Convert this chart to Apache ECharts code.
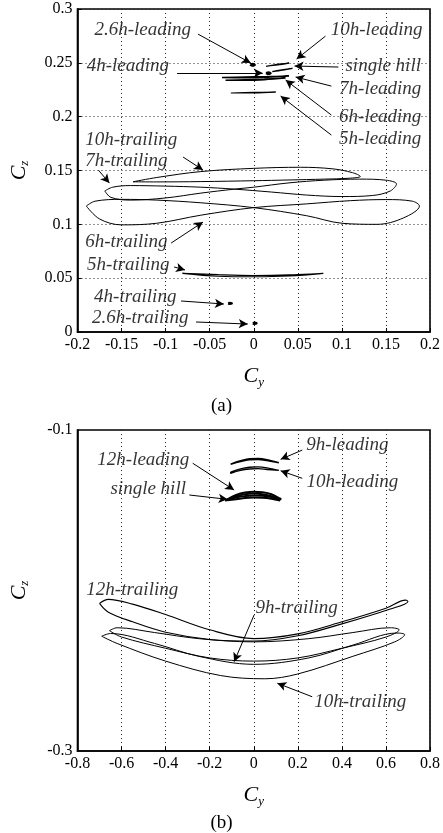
<!DOCTYPE html>
<html>
<head>
<meta charset="utf-8">
<script src="https://cdn.jsdelivr.net/npm/echarts@6/dist/echarts.min.js"></script>
<style>
  html, body { margin: 0; padding: 0; background: #fff; }
  #chart { width: 443px; height: 833px; }
</style>
</head>
<body>
<div id="chart"></div>
<script>
// ---------- panel (a): Cy–Cz trajectories, leading / trailing hills ----------
const lead26A = [[-0.004,0.2484],[-0.001,0.2489],[0.001,0.2481],[-0.002,0.2476],[-0.004,0.2484]];
const lead4A  = [[0.014,0.2404],[0.017,0.2410],[0.019,0.2403],[0.016,0.2398],[0.014,0.2404]];
const lead10A = [[0.014,0.2468],[0.022,0.2480],[0.031,0.2490],[0.040,0.2497],[0.032,0.2486],[0.022,0.2475],[0.014,0.2468]];
const singleA = [[0.021,0.2418],[0.030,0.2432],[0.038,0.2442],[0.044,0.2448],[0.036,0.2436],[0.028,0.2425],[0.021,0.2418]];
const lead7A  = [[-0.036,0.2364],[-0.010,0.2368],[0.015,0.2372],[0.040,0.2377],[0.015,0.2366],[-0.010,0.2362],[-0.036,0.2364]];
const lead6A  = [[-0.032,0.2338],[-0.010,0.2344],[0.012,0.2350],[0.036,0.2358],[0.012,0.2343],[-0.010,0.2338],[-0.032,0.2338]];
const lead5A  = [[-0.026,0.2220],[0.000,0.2225],[0.025,0.2228],[0.000,0.2221],[-0.026,0.2220]];

const trail10A = [[-0.137,0.1395],[-0.110,0.1435],[-0.060,0.1490],[0.000,0.1520],[0.053,0.1530],[0.090,0.1515],[0.112,0.1480],
                  [0.121,0.1445],[0.108,0.1428],[0.080,0.1420],[0.040,0.1412],[0.000,0.1405],[-0.060,0.1397],[-0.110,0.1394],[-0.137,0.1395]];
const trail7A  = [[-0.169,0.1310],[-0.160,0.1345],[-0.140,0.1360],[-0.100,0.1355],[-0.060,0.1345],[-0.022,0.1327],[0.020,0.1300],
                  [0.060,0.1272],[0.100,0.1258],[0.135,0.1268],[0.155,0.1310],[0.162,0.1375],[0.150,0.1410],[0.120,0.1420],
                  [0.080,0.1410],[0.040,0.1385],[0.000,0.1345],[-0.022,0.1327],[-0.060,0.1290],[-0.100,0.1245],[-0.140,0.1225],
                  [-0.162,0.1250],[-0.169,0.1310]];
const trail6A  = [[-0.190,0.1170],[-0.180,0.1215],[-0.150,0.1232],[-0.110,0.1225],[-0.060,0.1200],[0.000,0.1155],[0.060,0.1080],
                  [0.100,0.1010],[0.140,0.1000],[0.170,0.1060],[0.188,0.1170],[0.180,0.1215],[0.150,0.1230],[0.110,0.1220],
                  [0.060,0.1190],[0.000,0.1155],[-0.060,0.1085],[-0.110,0.1010],[-0.150,0.0995],[-0.175,0.1050],[-0.190,0.1170]];
const trail5A  = [[-0.081,0.0545],[-0.040,0.0532],[0.000,0.0525],[0.040,0.0530],[0.079,0.0545],[0.040,0.0520],[0.000,0.0513],
                  [-0.040,0.0518],[-0.081,0.0545]];
const trail4A  = [[-0.029,0.0266],[-0.027,0.0270],[-0.025,0.0266],[-0.027,0.0262],[-0.029,0.0266]];
const trail26A = [[-0.001,0.0081],[0.001,0.0085],[0.003,0.0081],[0.001,0.0077],[-0.001,0.0081]];

// label text, label centre, arrow tail, arrow head (data units of panel a)
const notesA = [
  ['2.6h-leading',  [-0.126, 0.2804], [-0.0633, 0.2767], [-0.0034, 0.2498]],
  ['10h-leading',   [ 0.1395, 0.2804], [ 0.0814, 0.2748], [ 0.0486, 0.2535]],
  ['single hill',   [ 0.1469, 0.2470], [ 0.0960, 0.2461], [ 0.0463, 0.2470]],
  ['4h-leading',    [-0.1429, 0.2470], [-0.0870, 0.2405], [ 0.0102, 0.2405]],
  ['7h-leading',    [ 0.1435, 0.2256], [ 0.0881, 0.2284], [ 0.0475, 0.2368]],
  ['6h-leading',    [ 0.1435, 0.1996], [ 0.0881, 0.2015], [ 0.0362, 0.2340]],
  ['5h-leading',    [ 0.1435, 0.1792], [ 0.0881, 0.1829], [ 0.0305, 0.2191]],
  ['10h-trailing',  [-0.1390, 0.1783], [-0.0802, 0.1625], [-0.0576, 0.1504]],
  ['7h-trailing',   [-0.1446, 0.1588], [-0.1763, 0.1504], [-0.1638, 0.1383]],
  ['6h-trailing',   [-0.1446, 0.0836], [-0.0938, 0.0826], [-0.0576, 0.1021]],
  ['5h-trailing',   [-0.1424, 0.0622], [-0.0904, 0.0604], [-0.0780, 0.0576]],
  ['4h-trailing',   [-0.1345, 0.0325], [-0.0825, 0.0288], [-0.0339, 0.0260]],
  ['2.6h-trailing', [-0.1288, 0.0130], [-0.0655, 0.0093], [-0.0068, 0.0074]]
];

// ---------- panel (b): higher hills ----------
const lead9B   = [[-0.105,-0.1213],[-0.060,-0.1192],[-0.020,-0.1180],[0.020,-0.1178],[0.060,-0.1185],[0.114,-0.1204],
                  [0.060,-0.1190],[0.020,-0.1183],[-0.020,-0.1185],[-0.060,-0.1196],[-0.105,-0.1213]];
const lead10B  = [[-0.105,-0.1262],[-0.060,-0.1242],[-0.020,-0.1232],[0.020,-0.1230],[0.060,-0.1236],[0.114,-0.1252],
                  [0.060,-0.1246],[0.020,-0.1241],[-0.020,-0.1243],[-0.060,-0.1252],[-0.105,-0.1270],[-0.105,-0.1262]];
const lead12B  = [[-0.120,-0.1432],[-0.080,-0.1405],[-0.040,-0.1390],[0.000,-0.1385],[0.040,-0.1388],[0.080,-0.1400],[0.125,-0.1432],
                  [0.080,-0.1418],[0.040,-0.1410],[0.000,-0.1408],[-0.040,-0.1412],[-0.080,-0.1420],[-0.120,-0.1432]];
const singleB  = [[-0.130,-0.1440],[-0.080,-0.1413],[-0.040,-0.1400],[0.000,-0.1396],[0.040,-0.1400],[0.080,-0.1412],[0.120,-0.1440],
                  [0.080,-0.1428],[0.040,-0.1422],[0.000,-0.1421],[-0.040,-0.1424],[-0.080,-0.1432],[-0.130,-0.1440]];

const trail12B = [[-0.700,-0.2080],[-0.660,-0.2055],[-0.550,-0.2085],[-0.400,-0.2150],[-0.200,-0.2245],[0.000,-0.2300],[0.200,-0.2270],
                  [0.400,-0.2195],[0.600,-0.2110],[0.690,-0.2060],[0.700,-0.2068],[0.620,-0.2115],[0.400,-0.2208],[0.200,-0.2282],
                  [0.000,-0.2315],[-0.200,-0.2305],[-0.400,-0.2260],[-0.550,-0.2195],[-0.660,-0.2135],[-0.700,-0.2080]];
const trail9B  = [[-0.655,-0.2250],[-0.620,-0.2232],[-0.450,-0.2262],[-0.250,-0.2300],[0.000,-0.2320],[0.250,-0.2300],[0.450,-0.2262],
                  [0.620,-0.2232],[0.660,-0.2245],[0.600,-0.2290],[0.400,-0.2360],[0.200,-0.2420],[0.000,-0.2440],[-0.200,-0.2420],
                  [-0.400,-0.2360],[-0.600,-0.2290],[-0.655,-0.2250]];
const trail10B = [[-0.690,-0.2285],[-0.650,-0.2268],[-0.450,-0.2330],[-0.250,-0.2410],[0.000,-0.2460],[0.250,-0.2420],[0.450,-0.2340],
                  [0.650,-0.2265],[0.685,-0.2275],[0.640,-0.2320],[0.450,-0.2410],[0.200,-0.2520],[0.050,-0.2550],[-0.150,-0.2530],
                  [-0.400,-0.2440],[-0.620,-0.2330],[-0.690,-0.2285]];

const notesB = [
  ['9h-leading',   [ 0.4249,-0.1093], [ 0.2201,-0.1125], [ 0.1220,-0.1183]],
  ['12h-leading',  [-0.5017,-0.1187], [-0.2771,-0.1207], [-0.0890,-0.1374]],
  ['10h-leading',  [ 0.4475,-0.1324], [ 0.2201,-0.1301], [ 0.1220,-0.1254]],
  ['single hill',  [-0.4791,-0.1368], [-0.2924,-0.1405], [-0.1189,-0.1432]],
  ['12h-trailing', [-0.5514,-0.1997], null, null],
  ['9h-trailing',  [ 0.1944,-0.2109], [ 0.0014,-0.2153], [-0.0890,-0.2444]],
  ['10h-trailing', [ 0.4836,-0.2695], [ 0.2653,-0.2662], [ 0.1071,-0.2578]]
];

// y tick labels shown on panel (b)
const yLabelsB = [-0.3, -0.1];

const SERIF = '"Liberation Serif", "Times New Roman", serif';
const INK = '#000';

function loop(data, idx, width) {
  return {
    type: 'line', data: data, xAxisIndex: idx, yAxisIndex: idx,
    showSymbol: false, smooth: 0.35, silent: true, animation: false,
    lineStyle: { color: INK, width: width || 1 }
  };
}

function notes(list, idx) {
  return [{
    type: 'scatter', xAxisIndex: idx, yAxisIndex: idx, symbolSize: 0, silent: true, animation: false,
    data: list.map(n => ({ name: n[0], value: n[1] })),
    label: {
      show: true, position: 'inside', formatter: '{b}',
      fontFamily: SERIF, fontStyle: 'italic', fontSize: 19, color: INK
    }
  }, {
    type: 'line', xAxisIndex: idx, yAxisIndex: idx, data: [], silent: true, animation: false,
    markLine: {
      silent: true, animation: false,
      symbol: ['none', 'arrow'], symbolSize: [7, 9],
      label: { show: false },
      lineStyle: { color: INK, width: 1, type: 'solid' },
      data: list.filter(n => n[2]).map(n => [{ coord: n[2] }, { coord: n[3] }])
    }
  }];
}

const axisText = { fontFamily: SERIF, fontSize: 16, color: INK };
const nameRich = {
  c: { fontFamily: SERIF, fontStyle: 'italic', fontSize: 22, color: INK },
  s: { fontFamily: SERIF, fontStyle: 'italic', fontSize: 13, color: INK, padding: [12, 0, 0, 0] }
};
const dotted = { show: true, lineStyle: { color: '#222', width: 1, type: [1, 3] } };

function xAx(idx, min, max, step) {
  return {
    type: 'value', gridIndex: idx, min: min, max: max, interval: step,
    axisLine: { show: true, onZero: false, lineStyle: { color: INK, width: 1.6 } },
    axisTick: { show: true, inside: true, length: 4, lineStyle: { color: INK } },
    axisLabel: Object.assign({ margin: 5 }, axisText),
    splitLine: dotted,
    name: '{c|C}{s|y}', nameLocation: 'middle', nameGap: 32,
    nameTextStyle: { rich: nameRich }
  };
}

const option = {
  backgroundColor: '#fff',
  animation: false,
  title: [
    { text: '(a)', left: 'center', top: 392, textStyle: { fontFamily: SERIF, fontSize: 19, fontWeight: 'normal', color: INK } },
    { text: '(b)', left: 'center', top: 809, textStyle: { fontFamily: SERIF, fontSize: 19, fontWeight: 'normal', color: INK } }
  ],
  grid: [
    { left: 76, right: 13, top: 9, height: 323, show: true, borderColor: INK, borderWidth: 1.6, backgroundColor: 'transparent' },
    { left: 76, right: 13, top: 430, height: 321, show: true, borderColor: INK, borderWidth: 1.6, backgroundColor: 'transparent' }
  ],
  xAxis: [ xAx(0, -0.2, 0.2, 0.05), xAx(1, -0.8, 0.8, 0.2) ],
  yAxis: [
    {
      type: 'value', gridIndex: 0, min: 0, max: 0.3, interval: 0.05,
      axisLine: { show: true, onZero: false, lineStyle: { color: INK, width: 1.6 } },
      axisTick: { show: true, inside: true, length: 4, lineStyle: { color: INK } },
      axisLabel: Object.assign({ margin: 5 }, axisText),
      splitLine: dotted,
      name: '{c|C}{s|z}', nameLocation: 'middle', nameGap: 46, nameRotate: 90,
      nameTextStyle: { rich: nameRich }
    },
    {
      type: 'value', gridIndex: 1, min: -0.3, max: -0.1, interval: 0.1,
      axisLine: { show: true, onZero: false, lineStyle: { color: INK, width: 1.6 } },
      axisTick: { show: false },
      axisLabel: Object.assign({
        margin: 5,
        formatter: v => yLabelsB.some(t => Math.abs(t - v) < 1e-9) ? String(v) : ''
      }, axisText),
      splitLine: { show: false },
      name: '{c|C}{s|z}', nameLocation: 'middle', nameGap: 46, nameRotate: 90,
      nameTextStyle: { rich: nameRich }
    }
  ],
  series: [
    loop(lead26A, 0, 2.5), loop(lead4A, 0, 2.5), loop(lead10A, 0, 1.2), loop(singleA, 0, 1.2),
    loop(lead7A, 0, 1.5), loop(lead6A, 0, 1.5), loop(lead5A, 0, 1.2),
    loop(trail10A, 0), loop(trail7A, 0), loop(trail6A, 0), loop(trail5A, 0, 1.2),
    loop(trail4A, 0, 2.5), loop(trail26A, 0, 2.5),
    ...notes(notesA, 0),
    loop(lead9B, 1, 1.6), loop(lead10B, 1, 1.3), loop(lead12B, 1, 2), loop(singleB, 1, 2),
    loop(trail12B, 1, 1.1), loop(trail9B, 1), loop(trail10B, 1),
    ...notes(notesB, 1)
  ]
};

const chart = echarts.init(document.getElementById('chart'), null, { renderer: 'canvas' });
chart.setOption(option);
</script>
</body>
</html>
